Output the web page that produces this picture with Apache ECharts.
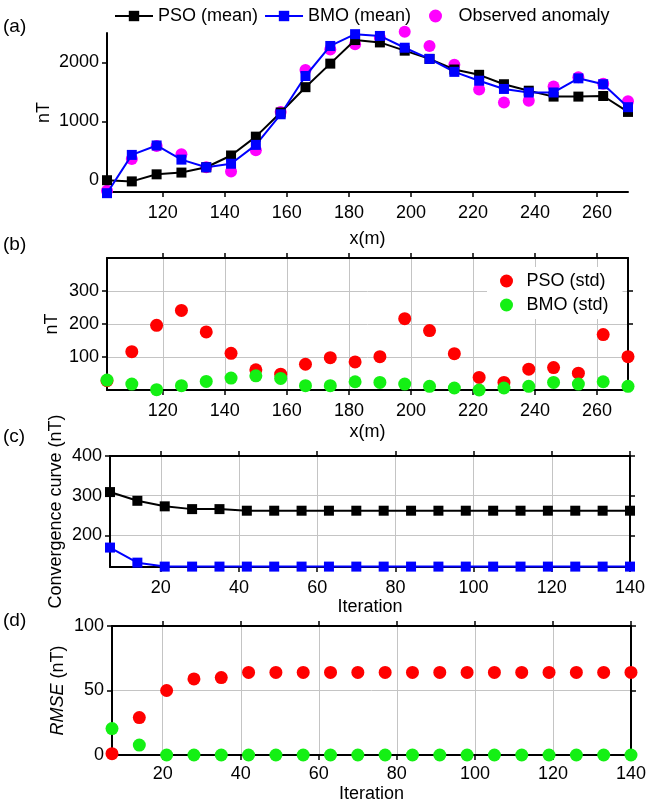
<!DOCTYPE html>
<html>
<head>
<meta charset="utf-8">
<script src="https://cdn.jsdelivr.net/npm/echarts@6/dist/echarts.min.js"></script>
<style>
  html, body { margin: 0; padding: 0; background: #fff; }
  #main { width: 649px; height: 804px; }
</style>
</head>
<body>
<div id="main"></div>
<script>
// panel (a) / (b): profile positions
var xPos = [102, 110, 118, 126, 134, 142, 150, 158, 166, 174, 182, 190, 198, 206, 214, 222, 230, 238, 246, 254, 262, 270];
var psoMean = [0, -20, 100, 130, 220, 420, 740, 1150, 1580, 1980, 2380, 2340, 2200, 2060, 1880, 1790, 1630, 1520, 1420, 1420, 1430, 1160];
var bmoMean = [-220, 430, 590, 350, 220, 280, 600, 1120, 1770, 2280, 2480, 2450, 2250, 2060, 1840, 1690, 1550, 1490, 1490, 1730, 1630, 1240];
var observed = [-180, 360, 580, 440, 220, 150, 510, 1160, 1870, 2220, 2310, 2420, 2520, 2280, 1960, 1540, 1320, 1350, 1590, 1750, 1640, 1340];
var psoStd = [28, 116, 196, 241, 176, 111, 61, 48, 78, 98, 85, 101, 216, 180, 110, 38, 23, 63, 68, 51, 168, 101];
var bmoStd = [30, 18, 1, 13, 26, 36, 43, 35, 13, 13, 25, 23, 18, 11, 6, 0, 6, 11, 23, 18, 25, 11];

// panel (c) / (d): iterations
var iters = [7, 14, 21, 28, 35, 42, 49, 56, 63, 70, 77, 84, 91, 98, 105, 112, 119, 126, 133, 140];
var psoConv = [309, 287, 273, 266, 266, 262, 262, 262, 262, 262, 262, 262, 262, 262, 262, 262, 262, 262, 262, 262];
var bmoConv = [169, 131, 121, 121, 121, 121, 121, 121, 121, 121, 121, 121, 121, 121, 121, 121, 121, 121, 121, 121];
var psoRmse = [1, 29, 50, 59, 60, 64, 64, 64, 64, 64, 64, 64, 64, 64, 64, 64, 64, 64, 64, 64];
var bmoRmse = [20.5, 7.7, 0, 0, 0, 0, 0, 0, 0, 0, 0, 0, 0, 0, 0, 0, 0, 0, 0, 0];

// tick labels
var xTicks = [120, 140, 160, 180, 200, 220, 240, 260];
var iterTicks = [20, 40, 60, 80, 100, 120, 140];
var aTicks = [0, 1000, 2000];
var bTicks = [100, 200, 300];
var cTicks = [200, 300, 400];
var dTicks = [0, 50, 100];

var FONT = 'Liberation Sans';

function pairs(xs, ys) {
  return xs.map(function (x, i) { return [x, ys[i]]; });
}

function axis(grid, pos, min, max, ticks, o) {
  o = o || {};
  return {
    type: 'value', gridIndex: grid, position: pos, min: min, max: max,
    name: o.name || '', nameLocation: 'middle', nameGap: o.nameGap || 30, nameMoveOverlap: false,
    nameTextStyle: Object.assign({ color: '#000', fontSize: 18, fontFamily: FONT }, o.nameStyle || {}),
    axisLine: { show: true, onZero: false, lineStyle: { color: '#000', width: 2 } },
    axisTick: { show: true, inside: false, length: 5, customValues: ticks, lineStyle: { color: '#000', width: 1.5 } },
    axisLabel: {
      show: o.labels !== false, customValues: ticks, color: '#000', fontSize: 18, fontFamily: FONT,
      margin: o.margin || 8, formatter: function (v) { return String(v); }
    },
    splitLine: { show: !!o.split, lineStyle: { color: '#c4c4c4', width: 1 } }
  };
}

var legendText = { color: '#000', fontSize: 18, fontFamily: FONT };

var chart = echarts.init(document.getElementById('main'));

var option = {
  animation: false,
  backgroundColor: '#fff',
  textStyle: { fontFamily: FONT },
  grid: [
    { left: 107, right: 21, top: 33, height: 159 },
    { left: 107, right: 21, top: 258, height: 132 },
    { left: 110, right: 19, top: 456, height: 111 },
    { left: 112, right: 16, top: 626, height: 130 }
  ],
  legend: [{
    data: ['PSO (mean)', 'BMO (mean)'],
    left: 109, top: 2, itemWidth: 38, itemHeight: 13, itemGap: 6, textStyle: legendText
  }, {
    data: ['Observed anomaly'],
    left: 424, top: 2, itemWidth: 36, itemHeight: 13, textStyle: legendText
  }, {
    data: ['PSO (std)', 'BMO (std)'],
    orient: 'vertical', left: 487, top: 267, itemWidth: 30, itemHeight: 13, itemGap: 6,
    padding: [5, 14, 5, 13], backgroundColor: '#fff', textStyle: legendText
  }],
  xAxis: [
    axis(0, 'bottom', 102, 270, xTicks, { name: 'x(m)', nameGap: 38, margin: 12 }),
    axis(1, 'bottom', 102, 270, xTicks, { name: 'x(m)', nameGap: 33, margin: 12, split: true }),
    axis(1, 'top', 102, 270, xTicks, { labels: false }),
    axis(2, 'bottom', 7, 140, iterTicks, { name: 'Iteration', nameGap: 31, margin: 12, split: true }),
    axis(2, 'top', 7, 140, iterTicks, { labels: false }),
    axis(3, 'bottom', 7, 140, iterTicks, { name: 'Iteration', nameGap: 30, margin: 10, split: true }),
    axis(3, 'top', 7, 140, iterTicks, { labels: false })
  ],
  yAxis: [
    axis(0, 'left', -200, 2500, aTicks, { name: 'nT', nameGap: 54 }),
    axis(1, 'left', 0, 400, bTicks, { name: 'nT', nameGap: 46, split: true }),
    axis(1, 'right', 0, 400, bTicks, { labels: false }),
    axis(2, 'left', 120, 400, cTicks, { name: 'Convergence curve (nT)', nameGap: 45, split: true }),
    axis(2, 'right', 120, 400, cTicks, { labels: false }),
    axis(3, 'left', 0, 100, dTicks, {
      name: '{i|RMSE} (nT)', nameGap: 45, split: true,
      nameStyle: { rich: { i: { fontStyle: 'italic', fontSize: 18, fontFamily: FONT, color: '#000' } } }
    }),
    axis(3, 'right', 0, 100, dTicks, { labels: false })
  ],
  series: [
    {
      name: 'PSO (mean)', type: 'line', xAxisIndex: 0, yAxisIndex: 0, clip: false,
      data: pairs(xPos, psoMean), symbol: 'rect', symbolSize: 10,
      itemStyle: { color: '#000' }, lineStyle: { color: '#000', width: 2 }
    },
    {
      name: 'BMO (mean)', type: 'line', xAxisIndex: 0, yAxisIndex: 0, clip: false,
      data: pairs(xPos, bmoMean), symbol: 'rect', symbolSize: 10,
      itemStyle: { color: '#0000ff' }, lineStyle: { color: '#0000ff', width: 2 }
    },
    {
      name: 'Observed anomaly', type: 'scatter', xAxisIndex: 0, yAxisIndex: 0, clip: false,
      data: pairs(xPos, observed), symbolSize: 12, itemStyle: { color: '#ff00ff', opacity: 1 }
    },
    {
      name: 'PSO (std)', type: 'scatter', xAxisIndex: 1, yAxisIndex: 1, clip: false,
      data: pairs(xPos, psoStd), symbolSize: 13, itemStyle: { color: '#ff0000', opacity: 1 }
    },
    {
      name: 'BMO (std)', type: 'scatter', xAxisIndex: 1, yAxisIndex: 1, clip: false,
      data: pairs(xPos, bmoStd), symbolSize: 13, itemStyle: { color: '#14f014', opacity: 1 }
    },
    {
      name: 'PSO conv', type: 'line', xAxisIndex: 3, yAxisIndex: 3, clip: false,
      data: pairs(iters, psoConv), symbol: 'rect', symbolSize: 10,
      itemStyle: { color: '#000' }, lineStyle: { color: '#000', width: 2 }
    },
    {
      name: 'BMO conv', type: 'line', xAxisIndex: 3, yAxisIndex: 3, clip: false,
      data: pairs(iters, bmoConv), symbol: 'rect', symbolSize: 10,
      itemStyle: { color: '#0000ff' }, lineStyle: { color: '#0000ff', width: 2 }
    },
    {
      name: 'PSO rmse', type: 'scatter', xAxisIndex: 5, yAxisIndex: 5, clip: false,
      data: pairs(iters, psoRmse), symbolSize: 13, itemStyle: { color: '#ff0000', opacity: 1 }
    },
    {
      name: 'BMO rmse', type: 'scatter', xAxisIndex: 5, yAxisIndex: 5, clip: false,
      data: pairs(iters, bmoRmse), symbolSize: 13, itemStyle: { color: '#14f014', opacity: 1 }
    }
  ],
  graphic: [
    { type: 'text', left: 3, top: 17, style: { text: '(a)', fontSize: 19, fontFamily: FONT, fill: '#000' } },
    { type: 'text', left: 3, top: 235, style: { text: '(b)', fontSize: 19, fontFamily: FONT, fill: '#000' } },
    { type: 'text', left: 3, top: 427, style: { text: '(c)', fontSize: 19, fontFamily: FONT, fill: '#000' } },
    { type: 'text', left: 3, top: 611, style: { text: '(d)', fontSize: 19, fontFamily: FONT, fill: '#000' } }
  ]
};

chart.setOption(option);
</script>
</body>
</html>
